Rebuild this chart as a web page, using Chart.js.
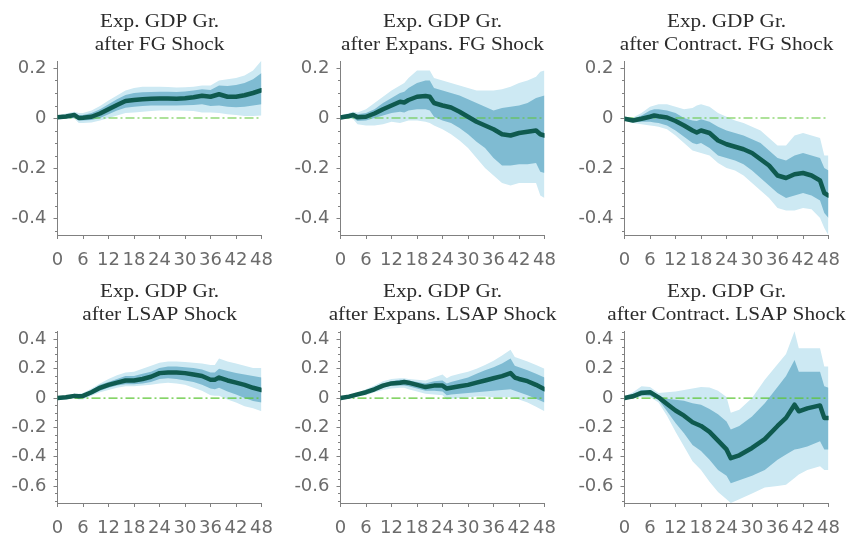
<!DOCTYPE html>
<html>
<head>
<meta charset="utf-8">
<script src="https://cdn.jsdelivr.net/npm/chart.js@4"></script>
<style>
  html, body { margin: 0; padding: 0; background: #fff; }
  body { width: 853px; height: 536px; position: relative; overflow: hidden; }
  canvas { position: absolute; }
</style>
</head>
<body>
<canvas id="c0" width="284" height="268" style="left:0px;top:0px"></canvas>
<canvas id="c1" width="284" height="268" style="left:283px;top:0px"></canvas>
<canvas id="c2" width="284" height="268" style="left:567px;top:0px"></canvas>
<canvas id="c3" width="284" height="266" style="left:0px;top:270px"></canvas>
<canvas id="c4" width="284" height="266" style="left:283px;top:270px"></canvas>
<canvas id="c5" width="284" height="266" style="left:567px;top:270px"></canvas>
<script>
// ---------- tick labels ----------
const xTicks = [0, 6, 12, 18, 24, 30, 36, 42, 48];
const yTicksTop = [-0.4, -0.2, 0, 0.2];
const yTickLabelsTop = ['-0.4', '-0.2', '0', '0.2'];
const yTicksBottom = [-0.6, -0.4, -0.2, 0, 0.2, 0.4];
const yTickLabelsBottom = ['-0.6', '-0.4', '-0.2', '0', '0.2', '0.4'];

// ---------- panel titles ----------
const titleFG = ['Exp. GDP Gr.', 'after FG Shock'];
const titleExpFG = ['Exp. GDP Gr.', 'after Expans. FG Shock'];
const titleConFG = ['Exp. GDP Gr.', 'after Contract. FG Shock'];
const titleLSAP = ['Exp. GDP Gr.', 'after LSAP Shock'];
const titleExpLSAP = ['Exp. GDP Gr.', 'after Expans. LSAP Shock'];
const titleConLSAP = ['Exp. GDP Gr.', 'after Contract. LSAP Shock'];

// ---------- Panel 1: FG shock ----------
const fgMonths = [0,2,4,5,6,8,10,12,14,16,18,20,22,24,26,28,30,32,34,36,38,40,42,44,46,48];
const fgMedian = [0.003,0.006,0.012,0.0,0.001,0.005,0.018,0.035,0.052,0.068,0.072,0.075,0.077,0.078,0.078,0.077,0.079,0.083,0.089,0.085,0.095,0.085,0.085,0.091,0.1,0.111];
const fgHi68 = [0.007,0.012,0.018,0.012,0.012,0.02,0.035,0.055,0.075,0.092,0.1,0.103,0.104,0.105,0.105,0.104,0.106,0.11,0.115,0.112,0.13,0.128,0.132,0.14,0.155,0.18];
const fgLo68 = [-0.002,0.0,0.003,-0.01,-0.01,-0.008,0.0,0.015,0.03,0.041,0.045,0.048,0.05,0.05,0.05,0.05,0.051,0.052,0.055,0.048,0.05,0.045,0.043,0.045,0.05,0.055];
const fgHi90 = [0.01,0.018,0.025,0.02,0.02,0.03,0.048,0.07,0.09,0.11,0.12,0.125,0.125,0.125,0.124,0.122,0.123,0.125,0.13,0.13,0.15,0.155,0.16,0.17,0.19,0.23];
const fgLo90 = [-0.005,-0.003,-0.003,-0.02,-0.02,-0.018,-0.01,0.0,0.01,0.02,0.022,0.025,0.028,0.03,0.03,0.03,0.029,0.028,0.022,0.022,0.02,0.015,0.012,0.008,0.008,0.01];

// ---------- Panel 2: expansionary FG ----------
const expFgMonths = [0,2,3,4,6,8,10,12,14,15,16,18,20,21,22,24,26,28,30,32,34,36,38,40,42,44,46,47,48];
const expFgMedian = [0.002,0.008,0.012,0.003,0.005,0.018,0.035,0.05,0.065,0.062,0.072,0.085,0.088,0.085,0.06,0.05,0.042,0.025,0.005,-0.015,-0.03,-0.045,-0.065,-0.07,-0.06,-0.055,-0.05,-0.065,-0.07];
const expFgHi68 = [0.005,0.015,0.018,0.015,0.02,0.035,0.06,0.08,0.1,0.105,0.12,0.14,0.15,0.15,0.12,0.11,0.1,0.09,0.075,0.06,0.045,0.03,0.04,0.045,0.05,0.06,0.08,0.085,0.09];
const expFgLo68 = [-0.002,0.0,0.0,-0.012,-0.01,0.0,0.01,0.02,0.025,0.022,0.03,0.035,0.035,0.03,0.005,-0.01,-0.02,-0.04,-0.065,-0.095,-0.12,-0.16,-0.19,-0.19,-0.185,-0.185,-0.18,-0.215,-0.22];
const expFgHi90 = [0.01,0.02,0.025,0.022,0.035,0.06,0.085,0.11,0.13,0.14,0.16,0.19,0.19,0.19,0.16,0.15,0.14,0.13,0.12,0.11,0.11,0.11,0.115,0.125,0.14,0.15,0.165,0.185,0.19];
const expFgLo90 = [-0.005,-0.003,-0.005,-0.025,-0.03,-0.03,-0.025,-0.015,-0.02,-0.015,-0.01,-0.01,-0.015,-0.02,-0.03,-0.045,-0.065,-0.09,-0.12,-0.16,-0.2,-0.23,-0.26,-0.27,-0.26,-0.26,-0.26,-0.31,-0.32];

// ---------- Panel 3: contractionary FG ----------
const conFgMonths = [0,2,4,6,7,8,10,12,14,16,17,18,20,22,24,26,28,30,32,34,36,38,40,42,44,46,47,48];
const conFgMedian = [-0.003,-0.01,-0.003,0.005,0.01,0.007,0.002,-0.012,-0.03,-0.05,-0.058,-0.05,-0.06,-0.09,-0.105,-0.115,-0.125,-0.14,-0.165,-0.19,-0.23,-0.24,-0.225,-0.22,-0.23,-0.25,-0.3,-0.31];
const conFgHi68 = [0.003,-0.003,0.01,0.03,0.035,0.035,0.03,0.02,0.0,-0.01,-0.012,-0.005,-0.015,-0.035,-0.05,-0.06,-0.07,-0.085,-0.1,-0.13,-0.16,-0.17,-0.15,-0.14,-0.15,-0.16,-0.2,-0.21];
const conFgLo68 = [-0.008,-0.015,-0.015,-0.015,-0.018,-0.02,-0.03,-0.05,-0.075,-0.1,-0.105,-0.1,-0.12,-0.15,-0.16,-0.17,-0.185,-0.21,-0.24,-0.27,-0.3,-0.32,-0.31,-0.3,-0.31,-0.33,-0.38,-0.4];
const conFgHi90 = [0.005,0.002,0.02,0.045,0.05,0.055,0.055,0.045,0.035,0.04,0.05,0.055,0.045,0.02,0.005,-0.01,-0.02,-0.035,-0.05,-0.08,-0.11,-0.11,-0.07,-0.06,-0.07,-0.08,-0.15,-0.15];
const conFgLo90 = [-0.01,-0.02,-0.025,-0.03,-0.032,-0.035,-0.045,-0.07,-0.1,-0.13,-0.135,-0.14,-0.15,-0.18,-0.2,-0.21,-0.23,-0.26,-0.29,-0.32,-0.36,-0.37,-0.37,-0.36,-0.365,-0.4,-0.44,-0.47];

// ---------- Panel 4: LSAP shock ----------
const lsapMonths = [0,2,4,5,6,8,10,12,14,16,18,20,22,24,26,28,30,32,34,36,37,38,40,42,44,46,48];
const lsapMedian = [0.0,0.005,0.015,0.012,0.015,0.04,0.07,0.09,0.105,0.12,0.12,0.13,0.145,0.17,0.175,0.175,0.17,0.16,0.15,0.125,0.125,0.14,0.12,0.105,0.09,0.07,0.055];
const lsapHi68 = [0.005,0.012,0.025,0.022,0.025,0.055,0.09,0.11,0.13,0.15,0.15,0.165,0.18,0.205,0.215,0.215,0.21,0.205,0.195,0.175,0.175,0.2,0.185,0.17,0.16,0.15,0.14];
const lsapLo68 = [-0.01,-0.005,0.005,0.0,0.0,0.025,0.05,0.07,0.085,0.095,0.095,0.1,0.11,0.13,0.135,0.13,0.12,0.11,0.09,0.065,0.06,0.07,0.045,0.025,0.0,-0.02,-0.03];
const lsapHi90 = [0.01,0.018,0.03,0.03,0.035,0.065,0.1,0.13,0.155,0.175,0.18,0.2,0.22,0.24,0.25,0.25,0.245,0.24,0.235,0.225,0.225,0.27,0.25,0.235,0.22,0.205,0.205];
const lsapLo90 = [-0.015,-0.01,0.0,-0.01,-0.01,0.015,0.04,0.055,0.07,0.08,0.08,0.085,0.09,0.1,0.105,0.1,0.09,0.07,0.05,0.02,0.015,0.015,-0.01,-0.03,-0.055,-0.07,-0.09];

// ---------- Panel 5: expansionary LSAP ----------
const expLsapMonths = [0,2,4,6,8,10,12,14,15,16,18,20,22,24,25,26,28,30,32,34,36,38,40,41,42,44,46,48];
const expLsapMedian = [0.0,0.01,0.025,0.04,0.06,0.085,0.1,0.105,0.11,0.105,0.09,0.075,0.085,0.085,0.065,0.07,0.08,0.09,0.105,0.12,0.135,0.15,0.17,0.14,0.13,0.115,0.09,0.06];
const expLsapHi68 = [0.005,0.015,0.03,0.05,0.075,0.1,0.115,0.125,0.125,0.12,0.11,0.1,0.115,0.12,0.1,0.11,0.125,0.14,0.165,0.19,0.21,0.235,0.27,0.22,0.21,0.19,0.165,0.14];
const expLsapLo68 = [-0.01,0.003,0.015,0.03,0.05,0.07,0.085,0.085,0.085,0.08,0.065,0.05,0.05,0.045,0.02,0.025,0.03,0.035,0.04,0.045,0.05,0.055,0.06,0.05,0.04,0.02,-0.005,-0.03];
const expLsapHi90 = [0.01,0.02,0.035,0.06,0.085,0.115,0.13,0.135,0.135,0.13,0.125,0.12,0.14,0.16,0.135,0.15,0.165,0.18,0.2,0.225,0.255,0.29,0.33,0.28,0.27,0.25,0.225,0.2];
const expLsapLo90 = [-0.015,-0.003,0.01,0.02,0.04,0.055,0.065,0.07,0.07,0.06,0.045,0.03,0.025,0.02,-0.01,-0.005,0.0,0.005,0.01,0.01,0.005,0.005,0.005,0.0,-0.01,-0.03,-0.06,-0.09];

// ---------- Panel 6: contractionary LSAP ----------
const conLsapMonths = [0,2,4,6,8,10,12,14,16,18,20,22,24,25,27,30,33,36,38,40,41,43,46,47,48];
const conLsapMedian = [0.0,0.012,0.035,0.04,0.005,-0.04,-0.085,-0.12,-0.165,-0.19,-0.23,-0.29,-0.35,-0.41,-0.39,-0.34,-0.28,-0.19,-0.135,-0.045,-0.09,-0.07,-0.05,-0.135,-0.135];
const conLsapHi68 = [0.007,0.03,0.055,0.055,0.018,-0.005,-0.012,-0.018,-0.035,-0.045,-0.075,-0.11,-0.16,-0.215,-0.19,-0.125,-0.035,0.075,0.15,0.26,0.18,0.18,0.18,0.08,0.07];
const conLsapLo68 = [-0.007,0.0,0.02,0.015,-0.01,-0.09,-0.17,-0.24,-0.32,-0.36,-0.42,-0.49,-0.53,-0.58,-0.56,-0.53,-0.49,-0.42,-0.385,-0.35,-0.345,-0.33,-0.295,-0.35,-0.35];
const conLsapHi90 = [0.01,0.04,0.08,0.075,0.035,0.04,0.045,0.055,0.065,0.075,0.072,0.05,0.007,-0.1,-0.08,0.0,0.125,0.23,0.3,0.455,0.34,0.34,0.34,0.215,0.215];
const conLsapLo90 = [-0.012,0.0,0.007,0.007,-0.03,-0.12,-0.23,-0.33,-0.43,-0.49,-0.57,-0.64,-0.69,-0.715,-0.69,-0.65,-0.61,-0.6,-0.59,-0.545,-0.52,-0.49,-0.465,-0.49,-0.49];

// ---------- styles ----------
const LIGHT = '#cde9f3';
const DARK = '#7fbbd2';
const LINE = '#0f5a4f';
const ZERO = '#5ec636';
const AXIS = '#808080';
const TICKTXT = '#6b6b6b';
const TITLETXT = '#2b2b2b';

const panelTitlePlugin = {
  id: 'panelTitle',
  afterDraw(chart, args, opts) {
    const ctx = chart.ctx;
    const ca = chart.chartArea;
    const cx = (ca.left + ca.right) / 2;
    ctx.save();
    ctx.fillStyle = TITLETXT;
    ctx.font = '18px "Liberation Serif"';
    ctx.textAlign = 'center';
    ctx.textBaseline = 'middle';
    opts.lines.forEach((t, i) => {
      ctx.save();
      ctx.translate(cx, 22 + i * 23);
      ctx.scale(1.18, 1);
      ctx.fillText(t, 0, 0);
      ctx.restore();
    });
    ctx.restore();
  }
};

const minorTickPlugin = {
  id: 'minorTicks',
  afterDraw(chart, args, opts) {
    const y = chart.scales.y;
    const x0 = Math.round(chart.chartArea.left);
    const ctx = chart.ctx;
    ctx.save();
    ctx.strokeStyle = AXIS;
    ctx.lineWidth = 1;
    const step = opts.step;
    const start = Math.ceil(y.min / step);
    const end = Math.floor(y.max / step);
    for (let k = start; k <= end; k++) {
      const v = k * step;
      if (opts.major.some(m => Math.abs(m - v) < 1e-9)) continue;
      const py = Math.round(y.getPixelForValue(v)) + 0.5;
      ctx.beginPath();
      ctx.moveTo(x0 - 3, py);
      ctx.lineTo(x0, py);
      ctx.stroke();
    }
    ctx.restore();
  }
};

function makePanel(id, title, months, median, hi68, lo68, hi90, lo90, yMin, yMax, yTicks, yLabels) {
  const pts = arr => months.map((m, i) => ({ x: m, y: arr[i] }));
  const band = (arr, fill, color, order) => ({
    data: pts(arr), fill: fill, backgroundColor: color, borderColor: 'rgba(0,0,0,0)',
    borderWidth: 0, pointRadius: 0, tension: 0, order: order
  });
  new Chart(document.getElementById(id), {
    type: 'line',
    data: {
      datasets: [
        band(hi90, '+1', LIGHT, 5),
        band(lo90, false, LIGHT, 5),
        band(hi68, '+1', DARK, 3),
        band(lo68, false, DARK, 3),
        {
          data: [{ x: xTicks[0], y: 0 }, { x: xTicks[xTicks.length - 1], y: 0 }],
          borderColor: ZERO, borderWidth: 1.2, borderDash: [9, 3, 2, 3],
          pointRadius: 0, fill: false, order: 1
        },
        {
          data: pts(median), borderColor: LINE, borderWidth: 4.5, pointRadius: 0,
          tension: 0, fill: false, borderJoinStyle: 'round', borderCapStyle: 'round', order: 0
        }
      ]
    },
    plugins: [panelTitlePlugin, minorTickPlugin],
    options: {
      responsive: false, animation: false, devicePixelRatio: 1,
      layout: { padding: { top: 61, right: 11, left: 0, bottom: 0 } },
      plugins: {
        legend: { display: false }, tooltip: { enabled: false }, title: { display: false },
        panelTitle: { lines: title },
        minorTicks: { step: 0.05, major: yTicks }
      },
      scales: {
        x: {
          type: 'linear', min: 0, max: 48,
          afterBuildTicks: s => { s.ticks = xTicks.map(v => ({ value: v })); },
          afterFit: s => { s.height = 33; },
          ticks: {
            font: { family: 'DejaVu Sans', size: 18 }, color: TICKTXT, padding: 11,
            maxRotation: 0, autoSkip: false, callback: v => String(v)
          },
          grid: { display: true, drawOnChartArea: false, drawTicks: true, tickLength: 4, color: AXIS },
          border: { display: true, color: AXIS, width: 1 }
        },
        y: {
          type: 'linear', min: yMin, max: yMax,
          afterBuildTicks: s => { s.ticks = yTicks.map(v => ({ value: v })); },
          afterFit: s => { s.width = 57.5; },
          ticks: {
            font: { family: 'DejaVu Sans', size: 18 }, color: TICKTXT, padding: 7,
            autoSkip: false, callback: v => yLabels[yTicks.indexOf(v)]
          },
          grid: { display: true, drawOnChartArea: false, drawTicks: true, tickLength: 4, color: AXIS },
          border: { display: true, color: AXIS, width: 1 }
        }
      }
    }
  });
}

makePanel('c0', titleFG, fgMonths, fgMedian, fgHi68, fgLo68, fgHi90, fgLo90, -0.468, 0.228, yTicksTop, yTickLabelsTop);
makePanel('c1', titleExpFG, expFgMonths, expFgMedian, expFgHi68, expFgLo68, expFgHi90, expFgLo90, -0.468, 0.228, yTicksTop, yTickLabelsTop);
makePanel('c2', titleConFG, conFgMonths, conFgMedian, conFgHi68, conFgLo68, conFgHi90, conFgLo90, -0.468, 0.228, yTicksTop, yTickLabelsTop);
makePanel('c3', titleLSAP, lsapMonths, lsapMedian, lsapHi68, lsapLo68, lsapHi90, lsapLo90, -0.715, 0.457, yTicksBottom, yTickLabelsBottom);
makePanel('c4', titleExpLSAP, expLsapMonths, expLsapMedian, expLsapHi68, expLsapLo68, expLsapHi90, expLsapLo90, -0.715, 0.457, yTicksBottom, yTickLabelsBottom);
makePanel('c5', titleConLSAP, conLsapMonths, conLsapMedian, conLsapHi68, conLsapLo68, conLsapHi90, conLsapLo90, -0.715, 0.457, yTicksBottom, yTickLabelsBottom);
</script>
</body>
</html>
